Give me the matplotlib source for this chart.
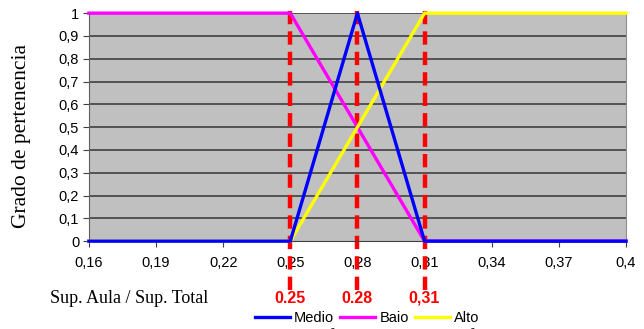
import matplotlib
matplotlib.use("Agg")
from matplotlib import pyplot as plt

# valores del gráfico
x_puntos = [0.16, 0.25, 0.28, 0.31, 0.40]
medio = [0, 0, 1, 0, 0]
bajo = [1, 1, 0.5, 0, 0]
alto = [0, 0, 0.5, 1, 1]
cortes = [0.25, 0.28, 0.31]
cortes_txt = ["0.25", "0.28", "0,31"]
x_ticks = [0.16, 0.19, 0.22, 0.25, 0.28, 0.31, 0.34, 0.37, 0.40]
x_ticklabels = ["0,16", "0,19", "0,22", "0,25", "0,28", "0,31", "0,34", "0,37", "0,4"]
y_ticks = [0, 0.1, 0.2, 0.3, 0.4, 0.5, 0.6, 0.7, 0.8, 0.9, 1]
y_ticklabels = ["0", "0,1", "0,2", "0,3", "0,4", "0,5", "0,6", "0,7", "0,8", "0,9", "1"]

plt.rcParams['font.family'] = ['Liberation Sans', 'DejaVu Sans']

fig = plt.figure(figsize=(6.44, 3.29), dpi=100)
ax = fig.add_axes([0.138, 0.267, 0.834, 0.693])
ax.set_facecolor('#c0c0c0')

# rejilla horizontal
for v in y_ticks[1:]:
    ax.axhline(v, color='#404040', lw=1.2, zorder=1)

# líneas rojas discontinuas
for c in cortes:
    ax.plot([c, c], [-0.215, 1.022], color='red', lw=3.2, ls=(0, (3, 1.6)),
            clip_on=False, zorder=2)

ax.plot(x_puntos, bajo, color='#ff00ff', lw=2.4, label='Baio', clip_on=False, zorder=3)
ax.plot(x_puntos, alto, color='#ffff00', lw=2.4, label='Alto', clip_on=False, zorder=3)
ax.plot(x_puntos, medio, color='#0000ff', lw=2.4, label='Medio', clip_on=False, zorder=4)

ax.set_xlim(0.16, 0.40)
ax.set_ylim(0, 1)
ax.set_xticks(x_ticks)
ax.set_xticklabels(x_ticklabels, fontsize=10.5)
ax.set_yticks(y_ticks)
ax.set_yticklabels(y_ticklabels, fontsize=10.5)
ax.tick_params(axis='both', direction='out', length=4, color='#404040', pad=3)
ax.tick_params(axis='x', pad=7)

ax.spines['top'].set_visible(False)
ax.spines['right'].set_color('#909090')
ax.spines['left'].set_color('#606060')
ax.spines['bottom'].set_color('#404040')

# etiquetas rojas
for c, t in zip(cortes, cortes_txt):
    ax.text(c, -0.25, t, color='red', fontsize=11.5, fontweight='bold',
            ha='center', va='center')

fig.text(0.034, 0.587, 'Grado de pertenencia', family='Liberation Serif',
         fontsize=15.5, rotation=90, ha='center', va='center')
fig.text(0.078, 0.093, 'Sup. Aula / Sup. Total', family='Liberation Serif',
         fontsize=13, ha='left', va='center')

handles, labels = ax.get_legend_handles_labels()
orden = [2, 0, 1]
fig.legend([handles[i] for i in orden], [labels[i] for i in orden],
           loc='center', bbox_to_anchor=(0.57, 0.033), ncol=3, frameon=False,
           fontsize=10.5, handlelength=2.4, handletextpad=0.3, columnspacing=0.4)

# pie de figura, cortado por el borde inferior como en el original
fig.text(0.0, -0.023, 'Figura 3: Función de pertenencia - Superficie de Aula / Edificio',
         family='Liberation Serif', style='italic', fontsize=14, ha='left', va='center')

fig.savefig('out.png', dpi=100)
